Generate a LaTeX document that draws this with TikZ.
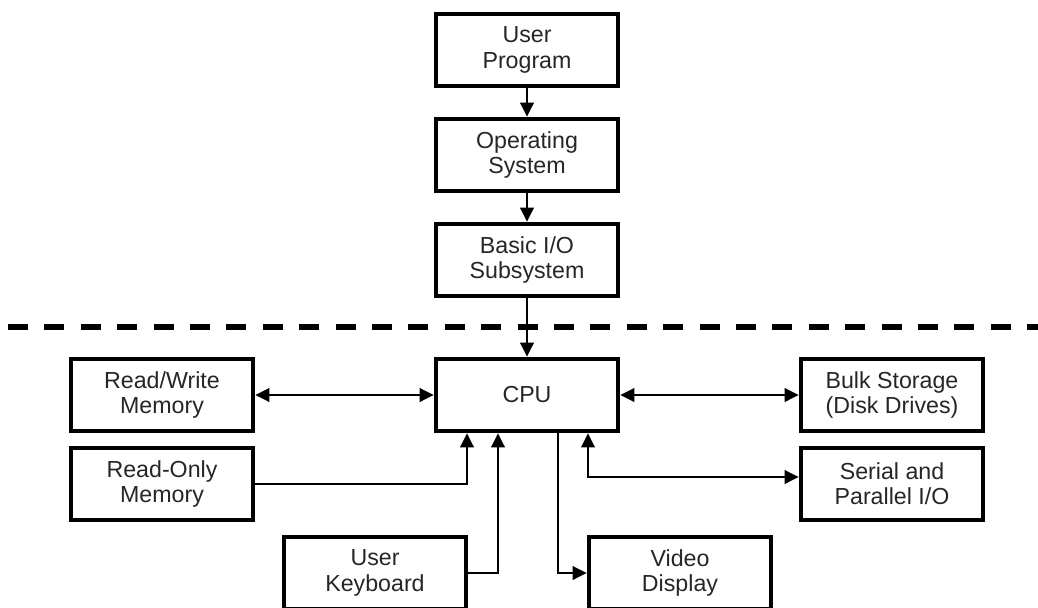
\documentclass[tikz,border=0pt]{standalone}
\usepackage{fontspec}
\setmainfont{Liberation Sans}
\usepackage{xcolor}
\usepackage{tikz}
\usetikzlibrary{
  arrows.meta,
  positioning,
  calc
}
\definecolor{boxline}{HTML}{000000}
\definecolor{labeltext}{HTML}{262626}

\begin{document}
\begin{tikzpicture}[
  unit/.style={draw=boxline, line width=3.4pt, fill=white,
               minimum width=4.55cm, minimum height=1.8cm,
               font=\fontsize{16.5}{18}\selectfont, text=labeltext,
               align=center},
  arrow/.style={-{Triangle[length=0.35cm, width=0.34cm]}, line width=1.5pt},
  twoway/.style={{Triangle[length=0.35cm, width=0.34cm]}-{Triangle[length=0.35cm, width=0.34cm]},
                 line width=1.5pt},
  divider/.style={line width=3.8pt, dash pattern=on 0.5cm off 0.41cm},
]
  \clip (0,0) rectangle (25.95,-15.175);
  \useasboundingbox (0,0) rectangle (25.95,-15.175);

  % Software layers
  \node[unit] (prog) at (13.175, -1.25) {User\\Program};
  \node[unit] (os)   at (13.175, -3.875) {Operating\\System};
  \node[unit] (bios) at (13.175, -6.5) {Basic I/O\\Subsystem};

  \draw[arrow] (prog) -- (os);
  \draw[arrow] (os) -- (bios);

  % Hardware / software boundary
  \coordinate (cutL) at (0.2, -8.175);
  \coordinate (cutR) at (25.95, -8.175);
  \draw[divider] (cutL) -- (cutR);

  % Hardware
  \node[unit] (cpu)  at (13.175, -9.875) {CPU};
  \node[unit] (ram)  at (4.05, -9.875) {Read/Write\\Memory};
  \node[unit] (rom)  at (4.05, -12.1) {Read-Only\\Memory};
  \node[unit] (disk) at (22.3, -9.875) {Bulk Storage\\(Disk Drives)};
  \node[unit] (sio)  at (22.3, -12.1) {Serial and\\Parallel I/O};
  \node[unit] (kbd)  at (9.375, -14.325) {User\\Keyboard};
  \node[unit] (vid)  at (17.0, -14.325) {Video\\Display};

  \draw[arrow] (bios) -- (cpu);
  \draw[twoway] (ram) -- (cpu);
  \draw[twoway] (cpu) -- (disk);
  \draw[arrow] (rom.east) -| ([xshift=-1.5cm]cpu.south);
  \draw[arrow] (kbd.east) -| ([xshift=-0.725cm]cpu.south);
  \draw[arrow] ([xshift=0.775cm]cpu.south) |- (vid.west);
  \draw[twoway] ([yshift=0.175cm]sio.west) -| ([xshift=1.525cm]cpu.south);

\end{tikzpicture}
\end{document}
